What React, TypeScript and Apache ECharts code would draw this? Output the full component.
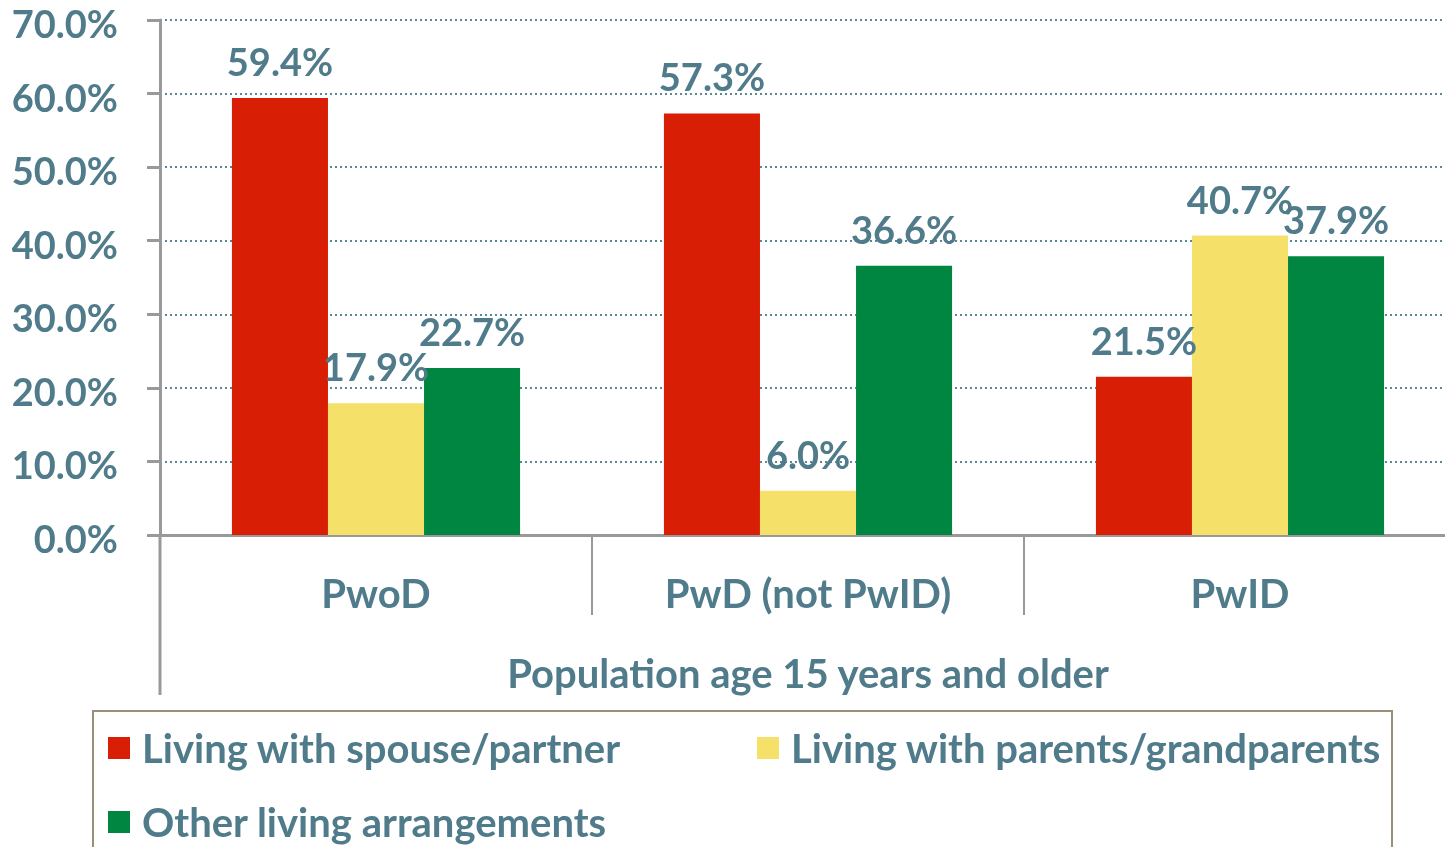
import React, { useEffect, useRef } from "react";
import * as echarts from "echarts";

const categories = ["PwoD", "PwD (not PwID)", "PwID"];
const spouse = [59.4, 57.3, 21.5];
const parents = [17.9, 6.0, 40.7];
const other = [22.7, 36.6, 37.9];
const seriesNames = [
  "Living with spouse/partner",
  "Living with parents/grandparents",
  "Other living arrangements",
];
const colors = ["#D81E05", "#F5E16A", "#008641"];
const axisTitle = "Population age 15 years and older";

const TEXT = "#4F7B8A";
const FONT = "Lato";

export default function App() {
  const ref = useRef<HTMLDivElement>(null);
  useEffect(() => {
    const chart = echarts.init(ref.current!, null, { renderer: "svg" });
    const label = {
      show: true,
      position: "top",
      distance: 18,
      color: TEXT,
      fontFamily: FONT,
      fontWeight: "bold",
      fontSize: 38,
      formatter: (p: any) => p.value.toFixed(1) + "%",
    };
    const legendText = {
      color: TEXT,
      fontFamily: FONT,
      fontWeight: "bold",
      fontSize: 40,
      padding: [0, 0, 0, 7],
    };
    const datas = [spouse, parents, other];
    chart.setOption({
      animation: false,
      textStyle: { fontFamily: FONT },
      grid: { left: 160, top: 20, bottom: 312, right: 0, outerBoundsMode: "none" },
      legend: [
        {
          data: [seriesNames[0], seriesNames[2]],
          orient: "vertical",
          left: 103,
          top: 723,
          itemWidth: 22,
          itemHeight: 22,
          itemGap: 34,
          icon: "rect",
          textStyle: legendText,
        },
        {
          data: [seriesNames[1]],
          orient: "vertical",
          left: 752,
          top: 723,
          itemWidth: 22,
          itemHeight: 22,
          icon: "rect",
          textStyle: legendText,
        },
      ],
      xAxis: {
        type: "category",
        data: categories,
        name: axisTitle,
        nameLocation: "middle",
        nameGap: 118,
        nameTextStyle: { color: TEXT, fontFamily: FONT, fontWeight: "bold", fontSize: 40 },
        axisLine: { lineStyle: { color: "#999999", width: 3 } },
        axisTick: { show: true, length: 80, interval: 0, lineStyle: { color: "#999999", width: 2 } },
        axisLabel: { color: TEXT, fontFamily: FONT, fontWeight: "bold", fontSize: 40, margin: 38 },
      },
      yAxis: {
        type: "value",
        min: 0,
        max: 70,
        interval: 10,
        axisLine: { show: true, lineStyle: { color: "#999999", width: 3 } },
        axisTick: { show: true, length: 13, lineStyle: { color: "#999999", width: 3 } },
        axisLabel: {
          margin: 42,
          formatter: (v: number) => "{t|" + v.toFixed(1) + "%}",
          rich: {
            t: {
              color: TEXT,
              fontFamily: FONT,
              fontWeight: "bold",
              fontSize: 38,
              lineHeight: 30,
              padding: [6, 0, 0, 0],
            },
          },
        },
        splitLine: { show: true, lineStyle: { color: "#5A8796", width: 2, type: [2, 3] } },
      },
      series: datas.map((d, i) => ({
        type: "bar",
        name: seriesNames[i],
        data: d,
        itemStyle: { color: colors[i] },
        barGap: "0%",
        barCategoryGap: "33.3%",
        label,
        z: 3,
      })),
      graphic: [
        {
          type: "line",
          shape: { x1: 160, y1: 535, x2: 160, y2: 695 },
          style: { stroke: "#999999", lineWidth: 3 },
        },
        {
          type: "rect",
          shape: { x: 93, y: 711, width: 1299, height: 200 },
          style: { fill: "none", stroke: "#9A8F78", lineWidth: 2 },
        },
      ],
    });
    return () => chart.dispose();
  }, []);
  return (
    <div style={{ position: "fixed", left: 0, top: 0, width: 1445, height: 847, overflow: "hidden" }}>
      <div ref={ref} style={{ width: 1456, height: 847 }} />
    </div>
  );
}
